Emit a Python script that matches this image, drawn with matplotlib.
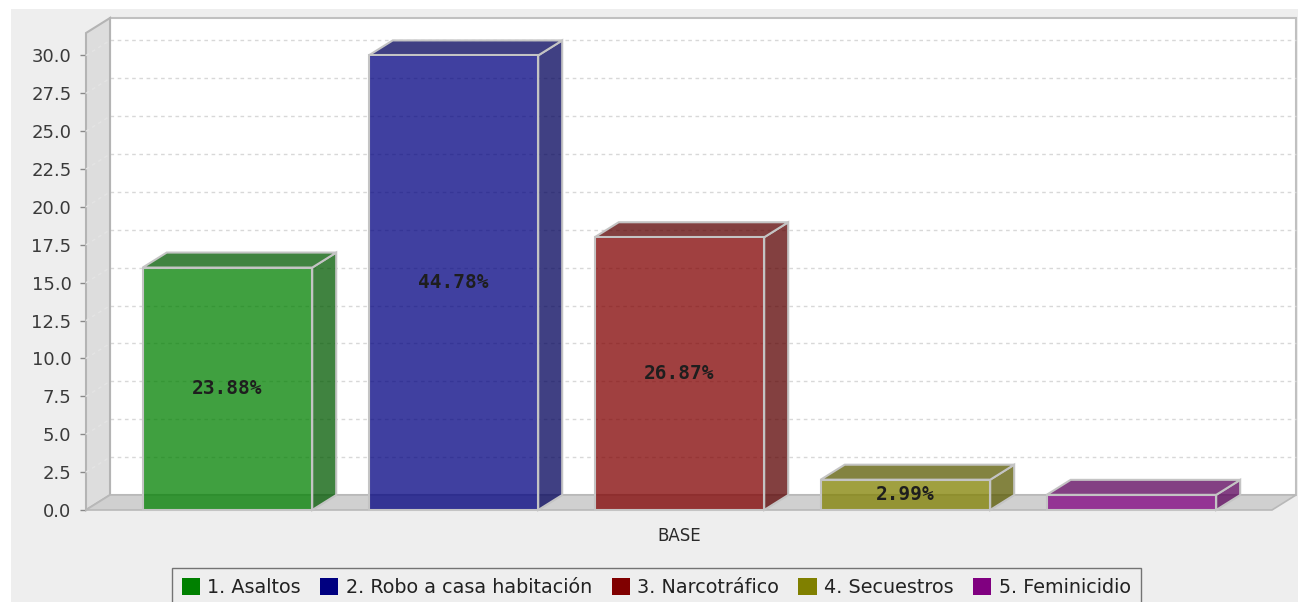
import numpy as np
import matplotlib.pyplot as plt
from matplotlib.colors import to_rgba
from matplotlib.patches import Polygon, Rectangle

# data
categories = ["1. Asaltos", "2. Robo a casa habitación", "3. Narcotráfico",
              "4. Secuestros", "5. Feminicidio"]
values = [16, 30, 18, 2, 1]
bar_labels = ["23.88%", "44.78%", "26.87%", "2.99%", ""]
colors = ["#008000", "#000080", "#800000", "#808000", "#800080"]
group_label = ["BASE"]
yticks = np.arange(0, 30.1, 2.5)

W, H = 1298, 602
fig = plt.figure(figsize=(W / 100, H / 100), dpi=100)
fig.patch.set_facecolor("white")
fig.add_artist(Rectangle((11 / W, 0), 1, (H - 9) / H, transform=fig.transFigure,
                         facecolor="#EEEEEE", edgecolor="none", zorder=0))

# front plane of the 3d plot
ax = fig.add_axes([86 / W, 92 / H, 1186 / W, 477 / H])
x0, x1 = -0.626, 4.622
y0, y1 = 0, 31.48
ax.set_xlim(x0, x1)
ax.set_ylim(y0, y1)
ax.patch.set_visible(False)
for s in ax.spines.values():
    s.set_visible(False)

# 3d offset (24 px right, 15 px up) in data units
dx = (x1 - x0) / 1186 * 24
dy = (y1 - y0) / 477 * 15

# back wall
ax.add_patch(Rectangle((x0 + dx, dy), x1 - x0, y1, facecolor="white",
                       edgecolor="#C0C0C0", lw=1.5, clip_on=False, zorder=1))
for v in yticks[1:]:
    ax.plot([x0 + dx, x1 + dx], [v + dy, v + dy], color="#D8D8D8", lw=1,
            dashes=(2.6, 2.6), clip_on=False, zorder=2)

# left wall and floor
ax.add_patch(Polygon([(x0, 0), (x0, y1), (x0 + dx, y1 + dy), (x0 + dx, dy)],
                     closed=True, facecolor="#DDDDDD", edgecolor="#B4B4B4",
                     lw=1.5, clip_on=False, zorder=3))
for v in yticks[1:]:
    ax.plot([x0, x0 + dx], [v, v + dy], color="#E4E4E4", lw=1,
            dashes=(2.6, 2.6), clip_on=False, zorder=3.5)
ax.add_patch(Polygon([(x0, 0), (x1, 0), (x1 + dx, dy), (x0 + dx, dy)],
                     closed=True, facecolor="#D0D0D0", edgecolor="#B8B8B8",
                     lw=1.2, clip_on=False, zorder=3))

# bars
xs = np.arange(len(values))
bw = 0.75
edge = "#C4C4C4"
for i, (x, v, c) in enumerate(zip(xs, values, colors)):
    rgb = np.array(to_rgba(c)[:3])
    dark = tuple(rgb * 0.7) + (0.75,)
    xl, xr = x - bw / 2, x + bw / 2
    ax.add_patch(Polygon([(xr, 0), (xr + dx, dy), (xr + dx, v + dy), (xr, v)],
                         closed=True, facecolor=dark, edgecolor=edge, lw=1.5,
                         clip_on=False, zorder=4 + i))
    ax.add_patch(Polygon([(xl, v), (xr, v), (xr + dx, v + dy), (xl + dx, v + dy)],
                         closed=True, facecolor=dark, edgecolor=edge, lw=1.5,
                         clip_on=False, zorder=4 + i))
    ax.bar(x, v, width=bw, color=to_rgba(c, 0.75), edgecolor=edge, lw=1.5,
           zorder=4.5 + i, clip_on=False)
    if bar_labels[i]:
        ax.text(x, v / 2, bar_labels[i], ha="center", va="center",
                family="DejaVu Sans Mono", fontweight="bold", fontsize=14,
                color="#1E1E1E", zorder=20)

# axes ticks
ax.set_yticks(yticks)
ax.set_yticklabels([f"{t:.1f}" for t in yticks])
ax.tick_params(axis="y", length=4, width=1, color="#888888", pad=6.5,
               labelsize=13, labelcolor="#3A3A3A")
ax.set_xticks([(x0 + x1) / 2])
ax.set_xticklabels(group_label)
ax.tick_params(axis="x", length=0, pad=12, labelsize=12, labelcolor="#2A2A2A")

# legend
handles = [Rectangle((0, 0), 1, 1, facecolor=c, edgecolor="none") for c in colors]
leg = fig.legend(handles, categories, ncol=5, loc="upper left",
                 bbox_to_anchor=(172 / W, (H - 568) / H), frameon=True,
                 fancybox=False, fontsize=13.8, handlelength=0.95,
                 handleheight=1.0, handletextpad=0.4, columnspacing=1.0,
                 borderpad=0.5, borderaxespad=0)
leg.get_frame().set_edgecolor("#555555")
leg.get_frame().set_facecolor("#EEEEEE")
leg.get_frame().set_linewidth(1)
for t in leg.get_texts():
    t.set_color("#222222")

fig.savefig("out.png", dpi=100)
